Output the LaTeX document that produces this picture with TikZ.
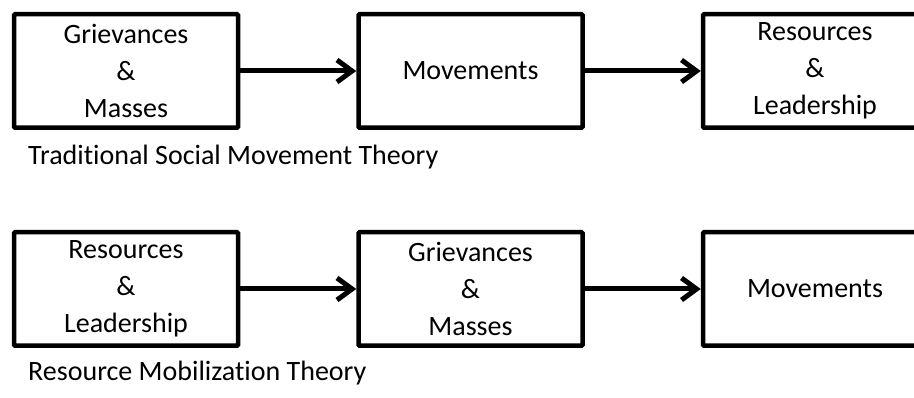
\documentclass[tikz,border=0pt]{standalone}
\usepackage{fontspec}
\setmainfont{Carlito}[Ligatures=NoCommon]
\usetikzlibrary{arrows.meta,positioning}

\begin{document}
\begin{tikzpicture}[
    x=1pt, y=1pt,
    node distance=100pt and 116pt,
    box/.style={draw, rectangle, rounded corners=1pt, line width=4.5pt, minimum width=224pt, minimum height=113.5pt, align=center, font=\fontsize{28}{37}\selectfont},
    caption/.style={anchor=base west, inner sep=0pt, font=\fontsize{28}{34}\selectfont},
    arrow/.style={-{Straight Barb[length=15pt,width=22pt]}, line width=5pt}
]
    \useasboundingbox (0,0) rectangle (914,-398);
    % traditional view
    \node[box] (gm1) at (126,-71) {Grievances\\\&\\Masses};
    \node[box] (mov1) [right=of gm1] {Movements};
    \node[box] (rl1) [right=of mov1] {Resources\\\&\\Leadership};
    \node[caption] (trad) at (28,-165) {Traditional Social Movement Theory};

    % resource mobilization view
    \node[box] (rl2) [below=of gm1] {Resources\\\&\\Leadership};
    \node[box] (gm2) [right=of rl2] {Grievances\\\&\\Masses};
    \node[box] (mov2) [right=of gm2] {Movements};
    \node[caption] (resmob) at (28,-381) {Resource Mobilization Theory};

    \draw[arrow] (gm1) -- (mov1);
    \draw[arrow] (mov1) -- (rl1);
    \draw[arrow] (rl2) -- (gm2);
    \draw[arrow] (gm2) -- (mov2);
\end{tikzpicture}
\end{document}
